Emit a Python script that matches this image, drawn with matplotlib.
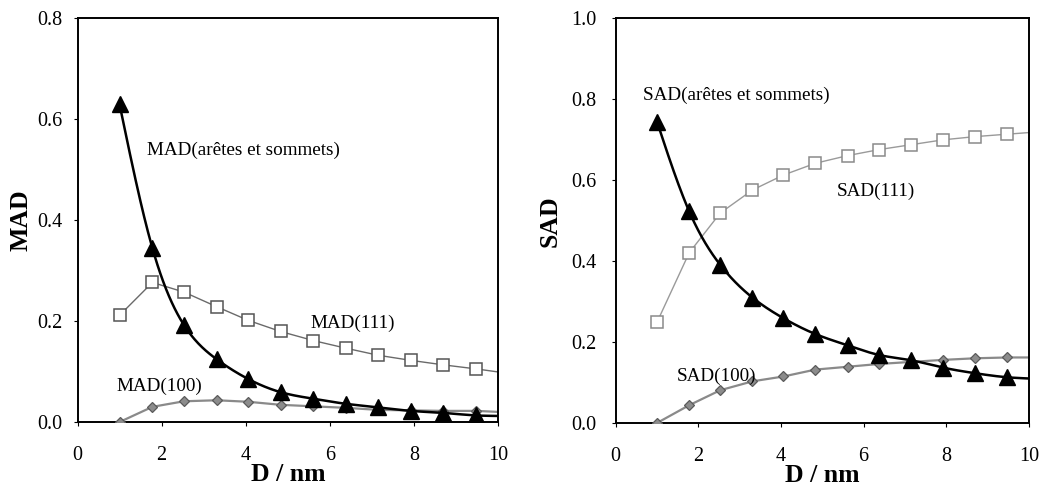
import numpy as np
import matplotlib
matplotlib.use("Agg")
import matplotlib.pyplot as plt

plt.rcParams['font.family'] = ['Liberation Serif', 'DejaVu Serif']

# ---- data ----
D = [1.0, 1.78, 2.53, 3.31, 4.06, 4.83, 5.61, 6.38, 7.15, 7.92, 8.70, 9.48]
D_end = 10.0

mad_edges = [0.628, 0.344, 0.192, 0.124, 0.085, 0.059, 0.046, 0.036, 0.029, 0.022, 0.018, 0.013]
mad_edges_end = 0.012
mad_111 = [0.211, 0.276, 0.257, 0.228, 0.201, 0.179, 0.161, 0.146, 0.132, 0.122, 0.113, 0.105]
mad_111_end = 0.099
mad_100 = [0.0, 0.030, 0.041, 0.043, 0.040, 0.034, 0.031, 0.028, 0.024, 0.023, 0.022, 0.022]
mad_100_end = 0.020

sad_edges = [0.745, 0.523, 0.391, 0.310, 0.259, 0.220, 0.192, 0.168, 0.155, 0.137, 0.123, 0.113]
sad_edges_end = 0.110
sad_111 = [0.249, 0.421, 0.519, 0.576, 0.613, 0.642, 0.661, 0.676, 0.688, 0.700, 0.708, 0.714]
sad_111_end = 0.718
sad_100 = [0.0, 0.044, 0.081, 0.103, 0.115, 0.132, 0.139, 0.146, 0.151, 0.156, 0.160, 0.162]
sad_100_end = 0.162

x_ticks = [0, 2, 4, 6, 8, 10]
mad_ticks = [0.0, 0.2, 0.4, 0.6, 0.8]
sad_ticks = [0.0, 0.2, 0.4, 0.6, 0.8, 1.0]


def natural_spline(x, y, n=400):
    x = np.asarray(x, float); y = np.asarray(y, float)
    k = len(x)
    h = np.diff(x)
    A = np.zeros((k, k)); b = np.zeros(k)
    A[0, 0] = 1; A[-1, -1] = 1
    for i in range(1, k - 1):
        A[i, i - 1] = h[i - 1]
        A[i, i] = 2 * (h[i - 1] + h[i])
        A[i, i + 1] = h[i]
        b[i] = 3 * ((y[i + 1] - y[i]) / h[i] - (y[i] - y[i - 1]) / h[i - 1])
    c = np.linalg.solve(A, b)
    xs = np.linspace(x[0], x[-1], n)
    ys = np.empty_like(xs)
    for j, xv in enumerate(xs):
        i = min(np.searchsorted(x, xv) - 1, k - 2)
        i = max(i, 0)
        dx = xv - x[i]
        bi = (y[i + 1] - y[i]) / h[i] - h[i] * (2 * c[i] + c[i + 1]) / 3
        di = (c[i + 1] - c[i]) / (3 * h[i])
        ys[j] = y[i] + bi * dx + c[i] * dx ** 2 + di * dx ** 3
    return xs, ys


fig = plt.figure(figsize=(10.49, 4.93), dpi=100)
ax1 = fig.add_axes([0.0739, 0.144, 0.4009, 0.8205])
ax2 = fig.add_axes([0.5869, 0.142, 0.394, 0.8205])

ANN = 13.8


def draw(ax, edges, edges_end, s111, s111_end, s100, s100_end, c111, c111edge):
    # (100) diamonds
    ax.plot(D + [D_end], s100 + [s100_end], color='#8a8a8a', lw=1.6, zorder=2)
    ax.plot(D, s100, ls='none', marker='D', ms=5.5, mfc='#8c8c8c', mec='#5a5a5a', mew=0.9, zorder=3)
    # (111) squares
    ax.plot(D + [D_end], s111 + [s111_end], color=c111, lw=1.0, zorder=2)
    ax.plot(D, s111, ls='none', marker='s', ms=9, mfc='white', mec=c111edge, mew=1.1, zorder=3)
    # edges & vertices triangles (smoothed)
    xs, ys = natural_spline(D + [D_end], edges + [edges_end])
    ax.plot(xs, ys, color='black', lw=1.8, zorder=4)
    ax.plot(D, edges, ls='none', marker='^', ms=11, mfc='black', mec='black', zorder=5)

    ax.set_xlim(0, 10)
    ax.set_xticks(x_ticks)
    ax.tick_params(direction='out', length=3, width=0.8, labelsize=14.5)
    ax.tick_params(axis='x', pad=14)
    for sp in ax.spines.values():
        sp.set_linewidth(1.4)
    ax.set_xlabel('D / nm', fontsize=18.5, fontweight='bold', labelpad=-1)


draw(ax1, mad_edges, mad_edges_end, mad_111, mad_111_end, mad_100, mad_100_end, '#6a6a6a', '#555555')
ax1.set_ylim(0, 0.8)
ax1.set_yticks(mad_ticks)
ax1.set_yticklabels([f'{v:.1f}' for v in mad_ticks])
ax1.tick_params(axis='y', pad=8)
ax1.set_ylabel('MAD', fontsize=18.5, fontweight='bold', labelpad=3)
ax1.text(1.65, 0.538, 'MAD(arêtes et sommets)', fontsize=ANN, va='center', ha='left')
ax1.text(5.53, 0.196, 'MAD(111)', fontsize=ANN, va='center', ha='left')
ax1.text(0.93, 0.070, 'MAD(100)', fontsize=ANN, va='center', ha='left')

draw(ax2, sad_edges, sad_edges_end, sad_111, sad_111_end, sad_100, sad_100_end, '#9a9a9a', '#8a8a8a')
ax2.set_ylim(0, 1.0)
ax2.set_yticks(sad_ticks)
ax2.set_yticklabels([f'{v:.1f}' for v in sad_ticks])
ax2.tick_params(axis='y', pad=11)
ax2.set_ylabel('SAD', fontsize=18.5, fontweight='bold', labelpad=7)
ax2.text(0.67, 0.811, 'SAD(arêtes et sommets)', fontsize=ANN, va='center', ha='left')
ax2.text(5.35, 0.572, 'SAD(111)', fontsize=ANN, va='center', ha='left')
ax2.text(1.48, 0.115, 'SAD(100)', fontsize=ANN, va='center', ha='left')

fig.savefig('out.png', dpi=100)
